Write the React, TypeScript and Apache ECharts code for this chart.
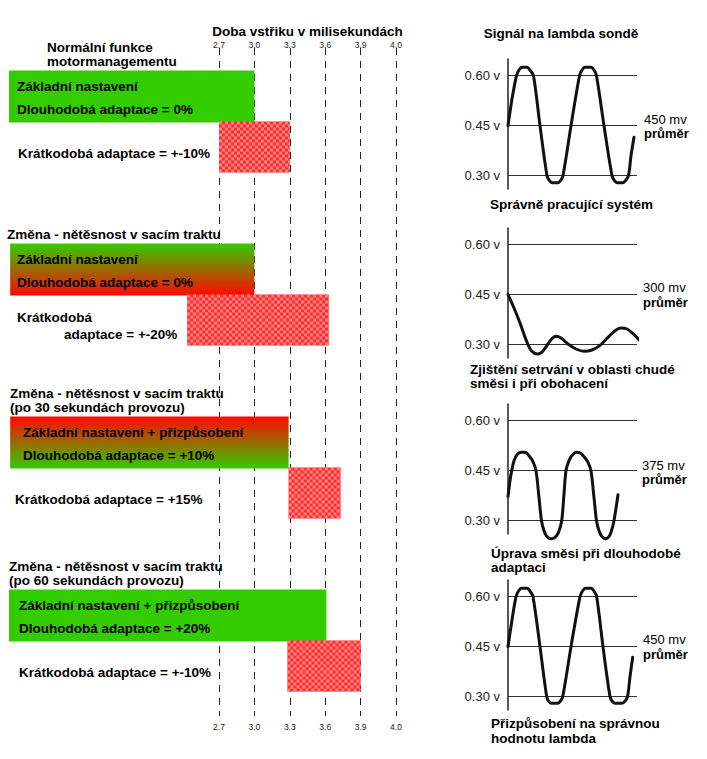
import React, { useEffect, useRef } from 'react';
import * as echarts from 'echarts';

// ---------- data ----------
const tickLabels = ['2.7', '3.0', '3.3', '3.6', '3.9', '4.0'];
const panelIds = ['P1', 'P2', 'P3', 'P4'];
const panelTitles = [
  'Normální funkce\nmotormanagementu',
  'Změna - nětěsnost v sacím traktu',
  'Změna - nětěsnost v sacím traktu\n(po 30 sekundách provozu)',
  'Změna - nětěsnost v sacím traktu\n(po 60 sekundách provozu)',
];
const baseLabels = [
  'Základní nastavení',
  'Základní nastavení',
  'Základní nastavení + přizpůsobení',
  'Základní nastavení + přizpůsobení',
];
const longTermLabels = [
  'Dlouhodobá adaptace = 0%',
  'Dlouhodobá adaptace = 0%',
  'Dlouhodobá adaptace = +10%',
  'Dlouhodobá adaptace = +20%',
];
const shortTermLabels = [
  'Krátkodobá adaptace = +-10%',
  'Krátkodobá\nadaptace = +-20%',
  'Krátkodobá adaptace = +15%',
  'Krátkodobá adaptace = +-10%',
];
const baseStart = [0.92, 0.93, 0.93, 0.92];
const baseEnd = [3.0, 3.0, 3.29, 3.61];
const shortStart = [2.7, 2.43, 3.29, 3.28];
const shortEnd = [3.3, 3.63, 3.73, 3.9];

const voltTicks = [0.3, 0.45, 0.6];
const lambdaTitles = [
  'Signál na lambda sondě',
  'Správně pracující systém',
  'Zjištění setrvání v oblasti chudé\nsměsi i při obohacení',
  'Úprava směsi při dlouhodobé\nadaptaci',
];
const bottomCaption = 'Přizpůsobení na správnou\nhodnotu lambda';
const averageLabels = ['450 mv', '300 mv', '375 mv', '450 mv'];
const averageWord = 'průměr';
const axisTitle = 'Doba vstřiku v milisekundách';

const signalNormal = [
  [0, 0.45], [4, 0.53], [8.5, 0.6], [11, 0.617], [14, 0.625], [19, 0.625], [22, 0.617], [25.5, 0.6],
  [32, 0.45], [39, 0.3], [41.5, 0.285], [44, 0.279], [50, 0.279], [52.5, 0.285], [55, 0.3], [63, 0.45],
  [71.5, 0.6], [74, 0.617], [77, 0.625], [83, 0.625], [86, 0.617], [88.5, 0.6], [96, 0.45], [104, 0.3],
  [106.5, 0.285], [109, 0.279], [115, 0.279], [117.5, 0.285], [120.5, 0.3], [123, 0.36], [126, 0.415],
];
const signalCorrect = [
  [0, 0.45], [6, 0.41], [12, 0.365], [18, 0.315], [22, 0.288], [26, 0.275], [30, 0.272], [34, 0.278],
  [38, 0.293], [43, 0.315], [48, 0.325], [53, 0.32], [60, 0.302], [68, 0.287], [76, 0.28], [84, 0.284],
  [92, 0.298], [100, 0.322], [107, 0.342], [113, 0.35], [119, 0.347], [125, 0.333], [133, 0.308],
];
const signalLean = [
  [0, 0.373], [2, 0.42], [3.7, 0.45], [6, 0.48], [9, 0.498], [13, 0.505], [17, 0.505], [21, 0.495],
  [24.5, 0.48], [28, 0.45], [30.8, 0.375], [33.5, 0.3], [36, 0.27], [39, 0.252], [43, 0.246], [47, 0.25],
  [50.5, 0.265], [53.7, 0.3], [56, 0.38], [58, 0.45], [61, 0.48], [64.5, 0.498], [68.5, 0.505],
  [72.5, 0.502], [76.5, 0.49], [80, 0.475], [83, 0.45], [85.8, 0.375], [88.5, 0.3], [91, 0.27],
  [94, 0.252], [97.5, 0.246], [101, 0.252], [103.5, 0.27], [106, 0.3], [110, 0.378],
];
const signalAdapted = [
  [0, 0.45], [4, 0.53], [8, 0.6], [10.5, 0.617], [13.5, 0.625], [19, 0.625], [22, 0.617], [25, 0.6],
  [32, 0.45], [38.7, 0.3], [41, 0.285], [43.5, 0.28], [49.5, 0.28], [52, 0.285], [54.7, 0.3], [63, 0.45],
  [72, 0.6], [74.5, 0.617], [77.5, 0.625], [83, 0.625], [86, 0.617], [88.7, 0.6], [95, 0.45], [102, 0.3],
  [104.5, 0.285], [107, 0.28], [113.5, 0.28], [116.5, 0.285], [119.5, 0.3], [122, 0.36], [124.7, 0.418],
];
const signals = [signalNormal, signalCorrect, signalLean, signalAdapted];

// ---------- layout / style ----------
const FONT = "'Liberation Sans', Arial, Helvetica, sans-serif";
const BOLD = 13.5;
const GREEN = '#33cc00';
const RED = '#ff0800';
const CHECK_RED = '#ff2a2a';
const CHECK_PINK = '#ff8585';
const CELL = 3;
const BAR_OFFSET = 20.5;
const BASE_H = 52;
const SHORT_H = 51;
const TITLE_LINE = 14.5;
const titleX = [47, 7, 10, 9];
const baseTextX = [17, 17, 23, 19];
const shortTextX = [18, 17, 15, 19];
const shortLineIndent = [[0], [0, 47], [0], [0]];
const baseFillKind = ['green', 'greenRed', 'redGreen', 'green'];
const lineGridTop = [59, 228, 404, 580];
const LINE_H = 130;
// panel title anchors (same band geometry as the bar grid: top 50, band 173)
const BAR_GRID_TOP = 50;
const BAND = 173;

function fillFor(kind: string) {
  if (kind === 'greenRed')
    return new echarts.graphic.LinearGradient(0, 0, 0, 1, [
      { offset: 0, color: GREEN },
      { offset: 1, color: RED },
    ]);
  if (kind === 'redGreen')
    return new echarts.graphic.LinearGradient(0, 0, 0, 1, [
      { offset: 0, color: RED },
      { offset: 1, color: GREEN },
    ]);
  return GREEN;
}

function txt(x: number, y: number, text: string, opts: any = {}) {
  return {
    type: 'text',
    x,
    y,
    silent: true,
    style: {
      text,
      fill: opts.fill || '#000',
      fontSize: opts.fontSize || BOLD,
      fontWeight: opts.fontWeight || 'bold',
      fontFamily: FONT,
      lineHeight: opts.lineHeight || TITLE_LINE,
      align: opts.align || 'left',
      verticalAlign: opts.verticalAlign || 'middle',
    },
  };
}

export default function App() {
  const ref = useRef<HTMLDivElement>(null);

  useEffect(() => {
    const chart = echarts.init(ref.current!, null, { renderer: 'svg' });

    const barData = panelIds.map((_, i) => [i, baseStart[i], baseEnd[i], shortStart[i], shortEnd[i]]);

    const renderBars = (params: any, api: any) => {
      const i = api.value(0);
      const bs = api.value(1);
      const be = api.value(2);
      const ss = api.value(3);
      const se = api.value(4);
      const c0 = api.coord([bs, i]);
      const band = api.size([0, 1])[1];
      const G = c0[1] - band / 2 + BAR_OFFSET;
      const xb0 = c0[0];
      const xb1 = api.coord([be, i])[0];
      const xs0 = api.coord([ss, i])[0];
      const xs1 = api.coord([se, i])[0];
      const children: any[] = [];
      children.push({
        type: 'rect',
        shape: { x: xb0, y: G, width: xb1 - xb0, height: BASE_H },
        style: { fill: fillFor(baseFillKind[i]) },
      });
      const sy = G + BASE_H - 1;
      const sw = xs1 - xs0;
      children.push({
        type: 'rect',
        shape: { x: xs0, y: sy, width: sw, height: SHORT_H },
        style: { fill: CHECK_RED },
      });
      for (let r = 0; r * CELL < SHORT_H; r++) {
        for (let c = 0; c * CELL < sw; c++) {
          if ((r + c) % 2 === 0) {
            children.push({
              type: 'rect',
              shape: {
                x: xs0 + c * CELL,
                y: sy + r * CELL,
                width: Math.min(CELL, sw - c * CELL),
                height: Math.min(CELL, SHORT_H - r * CELL),
              },
              style: { fill: CHECK_PINK },
            });
          }
        }
      }
      children.push(txt(baseTextX[i], G + 15.5, baseLabels[i]));
      children.push(txt(baseTextX[i], G + 39, longTermLabels[i]));
      const sLines = shortTermLabels[i].split('\n');
      const mid = G + 82.5;
      sLines.forEach((line, k) => {
        const y = mid + (k - (sLines.length - 1) / 2) * 17;
        children.push(txt(shortTextX[i] + (shortLineIndent[i][k] || 0), y, line));
      });
      return { type: 'group', children };
    };

    const fmtTick = (v: number) => {
      const idx = Math.round((v - 2.7) / 0.3);
      return idx >= 0 && idx < tickLabels.length ? tickLabels[idx] : '';
    };

    const grids: any[] = [
      { left: 6.6, width: 389.4, top: BAR_GRID_TOP, height: BAND * 4 },
      { left: 219, width: 177, top: 48, height: 668 },
    ];
    lineGridTop.forEach((t) => grids.push({ left: 508, width: 129, top: t, height: LINE_H }));

    const xAxes: any[] = [
      { type: 'value', gridIndex: 0, min: 0.9, max: 4.2, show: false },
      {
        type: 'value', gridIndex: 1, position: 'top', min: 2.7, max: 4.2, interval: 0.3,
        axisLine: { show: false }, axisTick: { show: false },
        axisLabel: { formatter: fmtTick, fontSize: 8.5, lineHeight: 9, color: '#222', fontFamily: FONT, margin: -1.5 },
        splitLine: { show: true, lineStyle: { type: [7, 6], color: '#222', width: 1 } },
      },
      {
        type: 'value', gridIndex: 1, position: 'bottom', min: 2.7, max: 4.2, interval: 0.3,
        axisLine: { show: false }, axisTick: { show: false },
        axisLabel: { formatter: fmtTick, fontSize: 8.5, lineHeight: 9, color: '#222', fontFamily: FONT, margin: 6 },
        splitLine: { show: false },
      },
    ];
    const yAxes: any[] = [
      { type: 'category', gridIndex: 0, data: panelIds, inverse: true, show: false },
      { type: 'value', gridIndex: 1, min: 0, max: 1, show: false },
    ];
    lineGridTop.forEach((_, k) => {
      xAxes.push({ type: 'value', gridIndex: 2 + k, min: 0, max: 129, show: false });
      yAxes.push({
        type: 'value', gridIndex: 2 + k, min: 0.26, max: 0.65,
        axisLine: { show: true, lineStyle: { color: '#222', width: 1.5 } },
        axisTick: { show: false },
        splitLine: { show: false },
        axisLabel: {
          customValues: voltTicks,
          formatter: (v: number) => v.toFixed(2) + ' v',
          fontSize: 13, color: '#222', fontFamily: FONT, margin: 8,
        },
      });
    });

    const series: any[] = [
      {
        type: 'custom',
        xAxisIndex: 0,
        yAxisIndex: 0,
        data: barData,
        encode: { x: [1, 2, 3, 4], y: 0 },
        renderItem: renderBars,
        z: 5,
        silent: true,
      },
    ];
    signals.forEach((sig, k) => {
      series.push({
        type: 'line',
        xAxisIndex: 3 + k,
        yAxisIndex: 2 + k,
        data: sig,
        symbol: 'none',
        smooth: 0.3,
        clip: false,
        silent: true,
        lineStyle: { color: '#111', width: 3, cap: 'round', join: 'round' },
        z: 4,
        markLine: {
          silent: true,
          symbol: ['none', 'none'],
          label: { show: false },
          lineStyle: { color: '#333', width: 1, type: 'solid' },
          data: voltTicks.map((v) => ({ yAxis: v })),
          z: 2,
        },
      });
    });

    const graphics: any[] = [];
    panelTitles.forEach((t, i) => {
      const G = BAR_GRID_TOP + i * BAND + BAR_OFFSET;
      const n = t.split('\n').length;
      graphics.push(txt(titleX[i], G - 9 - ((n - 1) * TITLE_LINE) / 2, t));
    });
    graphics.push(txt(307.5, 31, axisTitle, { align: 'center', lineHeight: 12 }));
    graphics.push(txt(561, 33, lambdaTitles[0], { align: 'center' }));
    graphics.push(txt(571.5, 204, lambdaTitles[1], { align: 'center' }));
    graphics.push(txt(470, 376.5, lambdaTitles[2]));
    graphics.push(txt(491, 560.5, lambdaTitles[3]));
    graphics.push(txt(491, 731, bottomCaption));
    const noteY = [119, 287.5, 465, 639.5];
    const noteX = [644, 643, 642, 643];
    noteY.forEach((y, k) => {
      graphics.push(txt(noteX[k], y, averageLabels[k], { fontWeight: 'normal', fontSize: 13 }));
      graphics.push(txt(noteX[k], y + 14.5, averageWord, { fontSize: 13 }));
    });

    chart.setOption({
      animation: false,
      backgroundColor: '#ffffff',
      grid: grids,
      xAxis: xAxes,
      yAxis: yAxes,
      series,
      graphic: graphics.map((g) => ({ ...g, z: 10 })),
    });

    return () => chart.dispose();
  }, []);

  return (
    <div
      ref={ref}
      style={{ position: 'fixed', left: 0, top: 0, width: 707, height: 759, background: '#fff' }}
    />
  );
}
